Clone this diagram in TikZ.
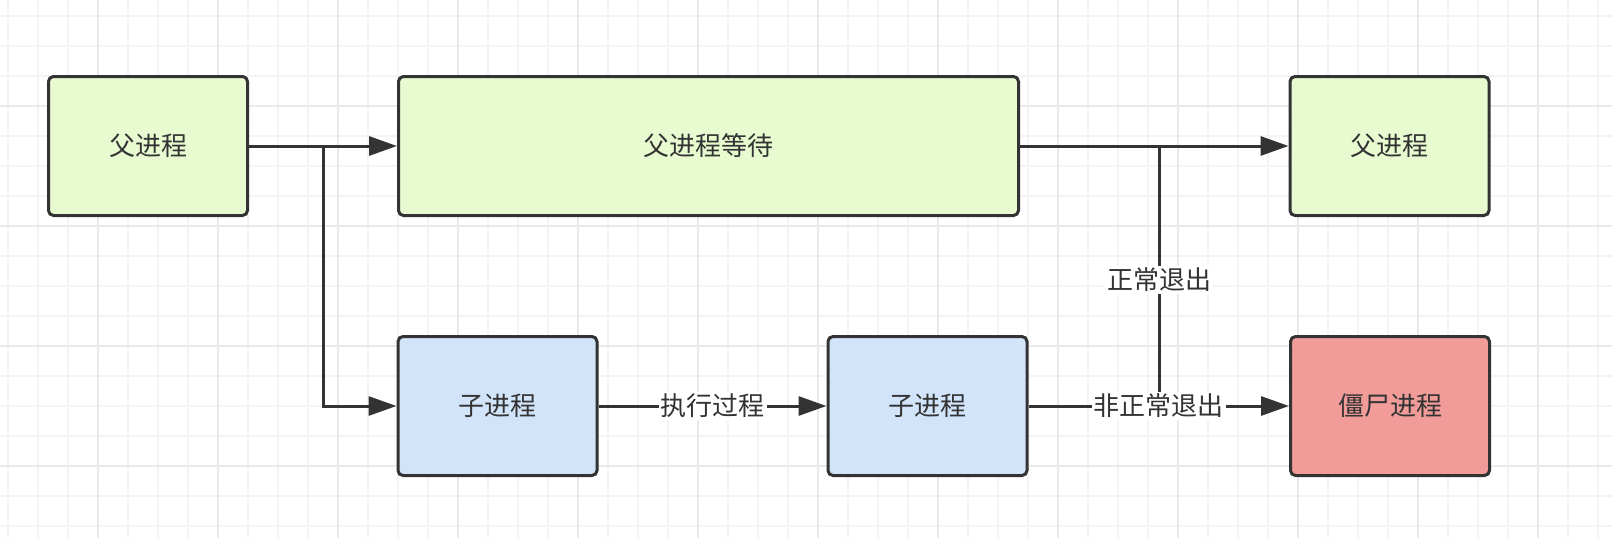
\documentclass[tikz,border=0pt]{standalone}
\usepackage{fontspec}
\setmainfont{Noto Sans CJK SC}
\usetikzlibrary{arrows.meta}
\definecolor{ink}{HTML}{333333}
\definecolor{gfill}{HTML}{E8FBD0}
\definecolor{bfill}{HTML}{D2E4FA}
\definecolor{rfill}{HTML}{F19C99}
\definecolor{gridfine}{HTML}{F4F4F4}
\definecolor{gridmajor}{HTML}{EAEAEA}
\tikzset{
  box/.style={draw=ink, line width=3pt, rounded corners=5pt, minimum width=199pt, minimum height=139pt,
    inner sep=0pt, text=ink, font=\fontsize{26}{31}\selectfont},
  conn/.style={draw=ink, line width=3pt},
  arr/.style={-{Triangle[length=28pt,width=19pt]}},
  lbl/.style={fill=white, text=ink, inner sep=2pt, font=\fontsize{26}{31}\selectfont},
  finegrid/.style={draw=gridfine, line width=1.5pt},
  majorgrid/.style={draw=gridmajor, line width=1.5pt}
}
\begin{document}
\begin{tikzpicture}[x=1pt,y=-1pt]
\useasboundingbox (0,0) rectangle (1612,538);
\fill[white] (0,0) rectangle (1612,538);
% grid
\foreach \x in {8,38,...,1610} \draw[finegrid] (\x,0) -- (\x,538);
\foreach \y in {16,46,...,536} \draw[finegrid] (0,\y) -- (1612,\y);
\foreach \x in {98,218,...,1610} \draw[majorgrid] (\x,0) -- (\x,538);
\foreach \y in {106,226,...,536} \draw[majorgrid] (0,\y) -- (1612,\y);
% nodes
\node[box, fill=gfill] (p1) at (148,146) {父进程};
\node[box, fill=gfill, minimum width=620pt] (p2) at (708.5,146) {父进程等待};
\node[box, fill=gfill] (p3) at (1389.5,146) {父进程};
\node[box, fill=bfill] (c1) at (497.5,406) {子进程};
\node[box, fill=bfill] (c2) at (927.5,406) {子进程};
\node[box, fill=rfill] (z) at (1390,406) {僵尸进程};
\coordinate (j1) at (323,146);
\coordinate (j2) at (1159,406);
\coordinate (j3) at (1159,146);
% connectors
\draw[conn, arr] (p1.east) -- (p2.west);
\draw[conn, arr] (j1) |- (c1.west);
\draw[conn, arr] (c1.east) -- node[lbl] {执行过程} (c2.west);
\draw[conn, arr] (p2.east) -- (p3.west);
\draw[conn] (j2) -- node[lbl, pos=0.485] {正常退出} (j3);
\draw[conn, arr] (c2.east) -- node[lbl] {非正常退出} (z.west);
\end{tikzpicture}
\end{document}
